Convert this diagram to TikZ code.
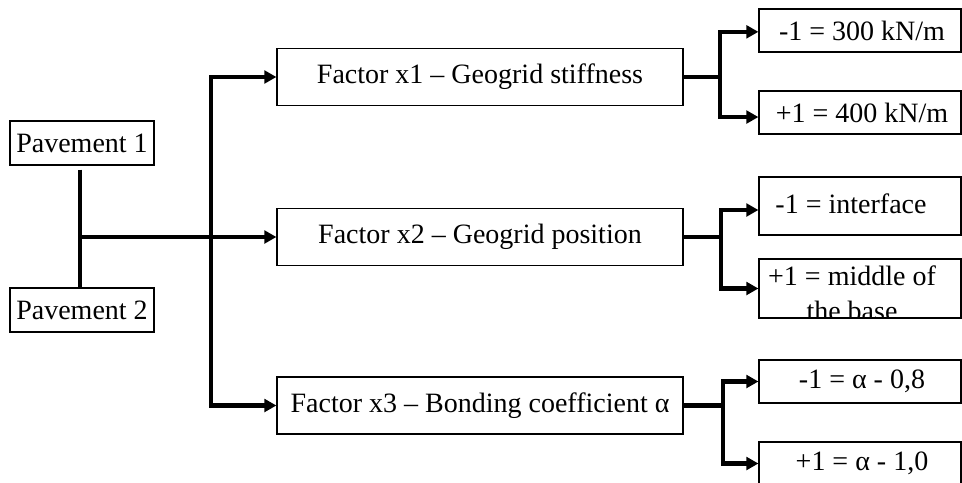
\documentclass[tikz,border=0pt]{standalone}
\usepackage{fontspec}
\setmainfont{Liberation Serif}
\usetikzlibrary{arrows.meta}

\begin{document}
\begin{tikzpicture}[x=0.75pt, y=-0.75pt, line width=0.9pt,
        txt/.style = {inner sep=0pt, font=\fontsize{21}{26}\selectfont},
        box/.style = {draw, txt},
        pave/.style = {box, minimum width=108pt, minimum height=33pt},
        fact/.style = {box, minimum width=304.5pt, minimum height=42.75pt},
        lev/.style = {box, minimum width=151.5pt, minimum height=32.25pt},
        link/.style = {line width=3.2pt},
        arr/.style = {link, -{Triangle[length=9pt, width=9.5pt]}},
        arrs/.style = {link, {Triangle[length=9pt, width=9.5pt]}-{Triangle[length=9pt, width=9.5pt]}}]
    \useasboundingbox (0,0) rectangle (962,482);

    % pavements and factors
    \node[pave] (p1) at (82,143) {Pavement 1};
    \node[pave] (p2) at (82,310) {Pavement 2};
    \node[fact] (f1) at (480,77) {Factor x1 -- Geogrid stiffness};
    \node[fact] (f2) at (480,237) {Factor x2 -- Geogrid position};
    \node[fact] (f3) at (480,405.5) {Factor x3 -- Bonding coefficient α};

    % levels
    \node[lev] (l1) at (860,30.5) {\hspace*{3pt}-1 = 300 kN/m};
    \node[lev] (l2) at (860,112.5) {\hspace*{3pt}+1 = 400 kN/m};
    \node[lev, minimum height=43.5pt] (l3) at (860,206) {};
    \node[txt, anchor=base] at (851,213) {-1 = interface};
    \node[lev, minimum height=44.25pt] (l4) at (860,288.5) {};
    \begin{scope}
        \clip (l4.south west) rectangle (l4.north east);
        \node[txt, anchor=base, align=center] at (852,320) {+1 = middle of\\the base};
    \end{scope}
    \node[lev] (l5) at (860,381.5) {\hspace*{3pt}-1 = α - 0,8};
    \node[lev] (l6) at (860,463.5) {\hspace*{3pt}+1 = α - 1,0};

    \coordinate (j) at (80,237);
    \coordinate (bus) at (211,237);
    \coordinate (b1) at (720,77);
    \coordinate (b2) at (721,237);
    \coordinate (b3) at (723,405.5);

    \draw[link] ([yshift=-3pt]j |- p1.south) -- (j |- p2.north);
    \draw[arr] (j) -- (f2.west);
    \draw[arrs] (f1.west) -| (bus) |- (f3.west);

    \draw[link] (f1.east) -- (b1);
    \draw[arrs] ([yshift=-1pt]l1.west) -| (b1) |- ([yshift=-3.4pt]l2.west);
    \draw[link] (f2.east) -- (b2);
    \draw[arrs] ([yshift=-3pt]l3.west) -| (b2) |- (l4.west);
    \draw[link] (f3.east) -- (b3);
    \draw[arrs] (l5.west) -| (b3) |- (l6.west);
\end{tikzpicture}
\end{document}
